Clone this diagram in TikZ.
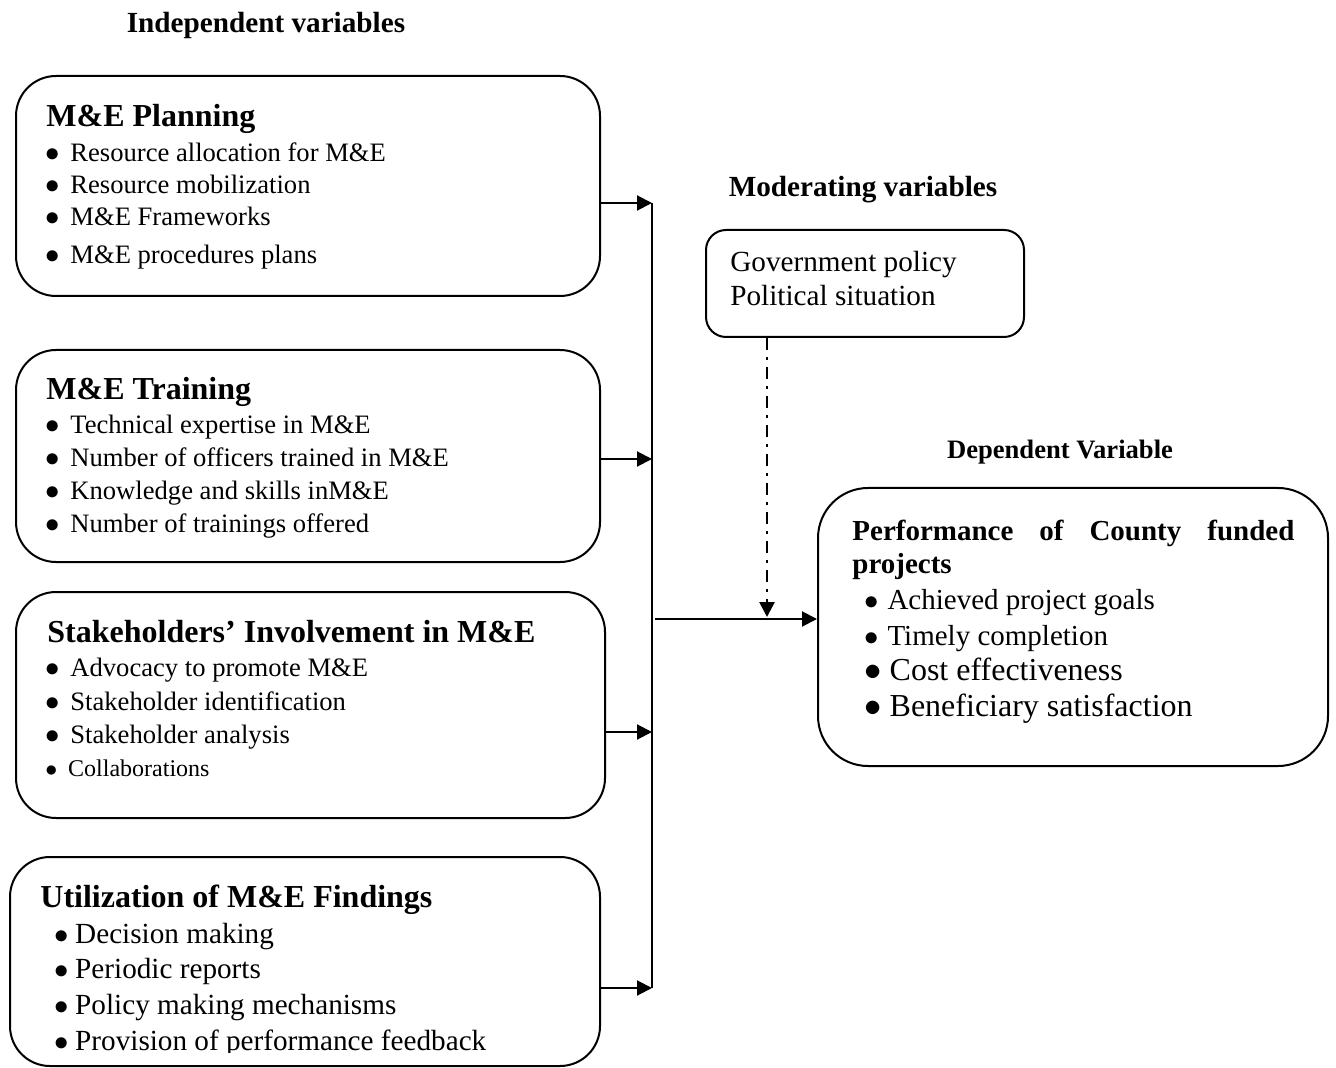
\documentclass[tikz,border=0pt]{standalone}
\usepackage{fontspec}
\setmainfont{Liberation Serif}
\usetikzlibrary{arrows.meta}

\newcommand{\dotitem}[1][0.4em]{$\bullet$\hspace{#1}}

\begin{document}
\begin{tikzpicture}[x=0.5pt,y=-0.5pt,
  var/.style={draw, line width=1pt, rounded corners=20pt, inner sep=0pt},
  head/.style={inner sep=0pt, font=\fontsize{14.6}{17}\selectfont\bfseries},
  title/.style={anchor=west, inner sep=0pt, text height=0.7em, text depth=0.2em,
    font=\fontsize{16}{19}\selectfont\bfseries},
  item/.style={anchor=west, inner sep=0pt, text height=0.7em, text depth=0.2em,
    font=\fontsize{13.3}{16}\selectfont},
  bigitem/.style={item, font=\fontsize{14.6}{17}\selectfont},
  link/.style={line width=1pt, ->},
  >={Triangle[length=7.5pt,width=7.5pt]}]

\useasboundingbox (0,0) rectangle (1336,1068);

% headings
\node[head] (indep) at (266,25) {Independent variables};
\node[head] (moder) at (863,190) {Moderating variables};
\node[head, font=\fontsize{13.3}{16}\selectfont\bfseries] (depen) at (1060,452) {Dependent Variable};

% independent variables
\node[var, minimum width=292pt, minimum height=110pt] (plan) at (308,186) {};
\node[title] (plant) at (46,122) {M\&E Planning};
\node[item] (plan1) at (45,157) {\dotitem Resource allocation for M\&E};
\node[item] (plan2) at (45,189) {\dotitem Resource mobilization};
\node[item] (plan3) at (45,221) {\dotitem M\&E Frameworks};
\node[item] (plan4) at (45,259) {\dotitem M\&E procedures plans};

\node[var, minimum width=292pt, minimum height=106pt] (train) at (308,456) {};
\node[title] (traint) at (46,395) {M\&E Training};
\node[item] (train1) at (45,429) {\dotitem Technical expertise in M\&E};
\node[item] (train2) at (45,462) {\dotitem Number of officers trained in M\&E};
\node[item] (train3) at (45,495) {\dotitem Knowledge and skills inM\&E};
\node[item] (train4) at (45,527) {\dotitem Number of trainings offered};

\node[var, minimum width=294.5pt, minimum height=113pt] (stake) at (310.5,705) {};
\node[title] (staket) at (47,637) {Stakeholders’ Involvement in M\&E};
\node[item] (stake1) at (45,671) {\dotitem Advocacy to promote M\&E};
\node[item] (stake2) at (45,705) {\dotitem Stakeholder identification};
\node[item] (stake3) at (45,738) {\dotitem Stakeholder analysis};
\node[item, font=\fontsize{12}{14}\selectfont] (stake4) at (45,771) {\dotitem[0.45em]Collaborations};

\node[var, minimum width=295pt, minimum height=104.5pt] (util) at (305,961.5) {};
\node[title] (utilt) at (40,902) {Utilization of M\&E Findings};
\node[bigitem] (util1) at (54,938) {\dotitem[0.22em]Decision making};
\node[bigitem] (util2) at (54,973) {\dotitem[0.22em]Periodic reports};
\node[bigitem] (util3) at (54,1009) {\dotitem[0.22em]Policy making mechanisms};
\begin{scope}
\clip (0,0) rectangle (1336,1052);
\node[bigitem] (util4) at (54,1045) {\dotitem[0.22em]Provision of performance feedback};
\end{scope}

% moderating variables
\node[var, rounded corners=10pt, minimum width=159pt, minimum height=53.5pt] (mod) at (865,283.5) {};
\node[bigitem] (mod1) at (730,267) {Government policy};
\node[bigitem] (mod2) at (730,301) {Political situation};

% dependent variable
\node[var, rounded corners=25pt, minimum width=255pt, minimum height=139pt] (perf) at (1073,627) {};
\node[item, font=\fontsize{14.5}{17}\selectfont\bfseries] (perft1) at (852,535)
  {\makebox[221pt][s]{Performance of County funded}};
\node[item, font=\fontsize{14.5}{17}\selectfont\bfseries] (perft2) at (852,568) {projects};
\node[bigitem, font=\fontsize{14.5}{17}\selectfont] (perf1) at (864,604) {\dotitem[0.3em]Achieved project goals};
\node[bigitem, font=\fontsize{14.5}{17}\selectfont] (perf2) at (864,640) {\dotitem[0.3em]Timely completion};
\node[bigitem, font=\fontsize{16}{19}\selectfont] (perf3) at (864,675) {\dotitem[0.25em]Cost effectiveness};
\node[bigitem, font=\fontsize{16}{19}\selectfont] (perf4) at (864,711) {\dotitem[0.25em]Beneficiary satisfaction};

% connectors
\coordinate (j1) at (652,203);
\coordinate (j2) at (652,459);
\coordinate (j3) at (652,732);
\coordinate (j4) at (652,988);
\coordinate (hub) at (655,619);
\coordinate (modfoot) at (767,0);

\draw[line width=1pt] (j1) -- (j4);
\begin{scope}[link]
\draw (plan.east |- j1) -- (j1);
\draw (train.east |- j2) -- (j2);
\draw (stake.east |- j3) -- (j3);
\draw (util.east |- j4) -- (j4);
\draw (hub) -- (perf.west |- hub);
\draw[line width=1.3pt, dash pattern=on 6pt off 3.5pt on 1.5pt off 3.5pt] (mod.south -| modfoot) -- ([yshift=1pt]hub -| modfoot);
\end{scope}
\end{tikzpicture}
\end{document}
